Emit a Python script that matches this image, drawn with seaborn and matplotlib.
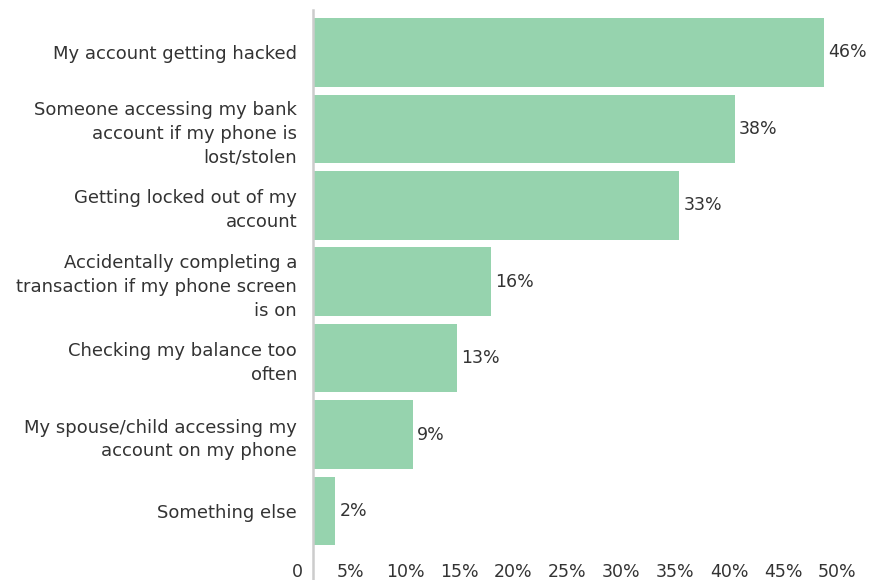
import matplotlib
matplotlib.use("Agg")
import matplotlib.pyplot as plt
import seaborn as sns
import pandas as pd

# survey answers, top to bottom
concerns = [
    "My account getting hacked",
    "Someone accessing my bank\naccount if my phone is\nlost/stolen",
    "Getting locked out of my\naccount",
    "Accidentally completing a\ntransaction if my phone screen\nis on",
    "Checking my balance too\noften",
    "My spouse/child accessing my\naccount on my phone",
    "Something else",
]
shares = [46, 38, 33, 16, 13, 9, 2]

tick_values = [0, 5, 10, 15, 20, 25, 30, 35, 40, 45, 50]
tick_labels = ["0", "5%", "10%", "15%", "20%", "25%", "30%", "35%", "40%", "45%", "50%"]

BAR_COLOR = "#96d3ae"
TEXT_COLOR = "#333333"
AXIS_COLOR = "#cccccc"

sns.set_theme(style="white")
plt.rcParams["font.family"] = ["DejaVu Sans"]
plt.rcParams["font.size"] = 13

df = pd.DataFrame({"concern": concerns, "share": shares})

fig, ax = plt.subplots(figsize=(8.7, 5.8), dpi=100)
fig.subplots_adjust(left=0.3406, right=1.0, bottom=0.0, top=1 - 10 / 580)

sns.barplot(data=df, x="share", y="concern", color=BAR_COLOR, width=0.9,
            saturation=1, edgecolor="none", ax=ax)

ax.set_xlim(-1.5, 50.18)
ax.set_ylim(6.904, -0.556)
ax.set_xlabel("")
ax.set_ylabel("")

# value labels at bar ends
ax.bar_label(ax.containers[0], labels=[f"{v}%" for v in shares], padding=3,
             color=TEXT_COLOR, fontsize=12.5)

# the source's axis labels sit a little left of the real scale
ax.set_xticks([0.973 * t - 1.44 for t in tick_values])
ax.set_xticklabels(tick_labels, color=TEXT_COLOR, fontsize=12.5)
ax.tick_params(axis="x", length=0, pad=-12)
ax.tick_params(axis="y", length=0, pad=11.5, labelcolor=TEXT_COLOR, labelsize=13)

for side in ["top", "right", "bottom"]:
    ax.spines[side].set_visible(False)
ax.spines["left"].set_position(("data", 0))
ax.spines["left"].set_color(AXIS_COLOR)
ax.spines["left"].set_linewidth(1.8)

# tick labels are rebuilt on draw, so set line spacing afterwards
fig.canvas.draw()
for lab in ax.get_yticklabels():
    lab.set_linespacing(1.42)

fig.savefig("out.png", dpi=100)
